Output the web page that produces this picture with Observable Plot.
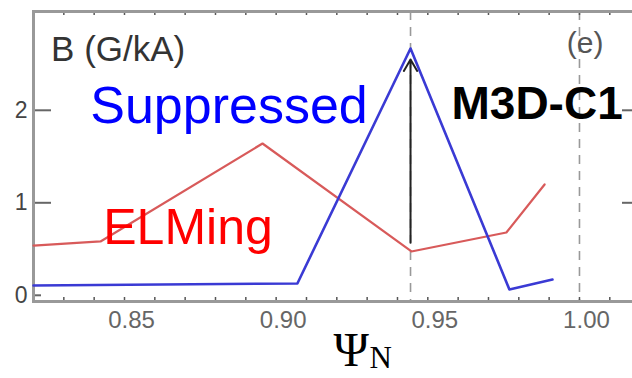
<!DOCTYPE html>
<html>
<head>
<meta charset="utf-8">
<script src="https://cdn.jsdelivr.net/npm/d3@7"></script>
<script src="https://cdn.jsdelivr.net/npm/@observablehq/plot@0.6"></script>
<style>
  html, body { margin: 0; padding: 0; background: #fff; }
  #chart { width: 632px; height: 378px; overflow: hidden; }
</style>
</head>
<body>
<div id="chart"></div>
<script>
// Data
const elmingPsi = [0.8200, 0.8421, 0.8955, 0.9446, 0.9759, 0.9885];
const elmingB   = [0.538, 0.582, 1.641, 0.474, 0.679, 1.198];
const suppPsi   = [0.8200, 0.9070, 0.9443, 0.9769, 0.9911];
const suppB     = [0.106, 0.128, 2.668, 0.063, 0.171];
const xTickLabels = [0.85, 0.90, 0.95, 1.00];
const xMinorTicks = [0.83, 0.84, 0.85, 0.86, 0.87, 0.88, 0.89, 0.90, 0.91, 0.92, 0.93, 0.94, 0.95, 0.96, 0.97, 0.98, 0.99, 1.00, 1.01];
const yTicks = [0, 1, 2];
const dashedPsi = [0.9443, 1.00];
const arrowPsi = 0.9443, arrowFrom = 0.571, arrowTo = 2.55;

const elming = elmingPsi.map((x, i) => ({x, y: elmingB[i]}));
const supp = suppPsi.map((x, i) => ({x, y: suppB[i]}));

const xDom = [0.8200, 1.0188];
const yDom = [-0.067, 3.068];
const xPx = (xDom[1] - xDom[0]) / 603; // data per pixel
const yPx = (yDom[1] - yDom[0]) / 290;

const plot = Plot.plot({
  width: 632,
  height: 378,
  marginLeft: 33,
  marginRight: -4,
  marginTop: 11,
  marginBottom: 77,
  style: {background: "#fff", overflow: "hidden"},
  x: {domain: xDom},
  y: {domain: yDom},
  marks: [
    // dashed reference lines
    Plot.ruleX(dashedPsi, {stroke: "#999", strokeWidth: 1.6, strokeDasharray: "9,7"}),
    // minor ticks bottom / top (inward)
    Plot.ruleX(xMinorTicks, {y1: yDom[0], y2: yDom[0] + 4 * yPx, stroke: "#555", strokeWidth: 1.5}),
    Plot.ruleX(xMinorTicks, {y1: yDom[1], y2: yDom[1] - 4 * yPx, stroke: "#555", strokeWidth: 1.5}),
    // y ticks left / right
    Plot.ruleY(yTicks, {x1: xDom[0], x2: d => xDom[0] + (d === 0 ? 8 : 18) * xPx, stroke: "#666", strokeWidth: 2}),
    Plot.ruleY(yTicks.filter(d => d > 0), {x1: xDom[1], x2: xDom[1] - 14 * xPx, stroke: "#666", strokeWidth: 2}),
    // frame
    Plot.frame({stroke: "#999", strokeWidth: 3}),
    // axes labels
    Plot.axisX(xTickLabels, {tickSize: 0, tickPadding: 9, fontSize: 24, dx: 7, fill: "#666",
      tickFormat: d3.format(".2f"), label: null, fontFamily: "Liberation Sans, Arial, sans-serif"}),
    Plot.axisY(yTicks, {tickSize: 0, tickPadding: 6, fontSize: 23, fill: "#444",
      tickFormat: d3.format("d"), label: null, fontFamily: "Liberation Sans, Arial, sans-serif"}),
    // series
    Plot.line(elming, {x: "x", y: "y", stroke: "#d85a5a", strokeWidth: 2.2}),
    Plot.line(supp, {x: "x", y: "y", stroke: "#3a3ad4", strokeWidth: 2.6}),
    // arrow
    Plot.arrow([{x: arrowPsi, y1: arrowFrom, y2: arrowTo}], {x1: "x", x2: "x", y1: "y1", y2: "y2",
      stroke: "#222", strokeWidth: 2, headLength: 10, bend: 0}),
    // annotations
    Plot.text(["B (G/kA)"], {x: 0.8258, y: 2.65, text: d => d, textAnchor: "start", fontSize: 35,
      fill: "#333", fontFamily: "Liberation Sans, Arial, sans-serif"}),
    Plot.text(["Suppressed"], {x: 0.8387, y: 2.04, text: d => d, textAnchor: "start", fontSize: 52,
      fill: "#0000ff", fontFamily: "Liberation Sans, Arial, sans-serif"}),
    Plot.text(["ELMing"], {x: 0.8430, y: 0.725, text: d => d, textAnchor: "start", fontSize: 50,
      fill: "#ff0000", fontFamily: "Liberation Sans, Arial, sans-serif"}),
    Plot.text(["M3D-C1"], {x: 0.9578, y: 2.07, text: d => d, textAnchor: "start", fontSize: 46,
      fontWeight: "bold", fill: "#000", fontFamily: "Liberation Sans, Arial, sans-serif"}),
    Plot.text(["(e)"], {x: 0.9958, y: 2.72, text: d => d, textAnchor: "start", fontSize: 30,
      fill: "#555", fontFamily: "Liberation Sans, Arial, sans-serif"}),
    Plot.text(["Ψ"], {x: 0.9189, y: -0.6, text: d => d, textAnchor: "start", fontSize: 48,
      fill: "#000", fontFamily: "Liberation Serif, Times New Roman, serif"}),
    Plot.text(["N"], {x: 0.9308, y: -0.68, text: d => d, textAnchor: "start", fontSize: 31,
      fill: "#000", fontFamily: "Liberation Serif, Times New Roman, serif"})
  ]
});
document.getElementById("chart").appendChild(plot);
</script>
</body>
</html>
